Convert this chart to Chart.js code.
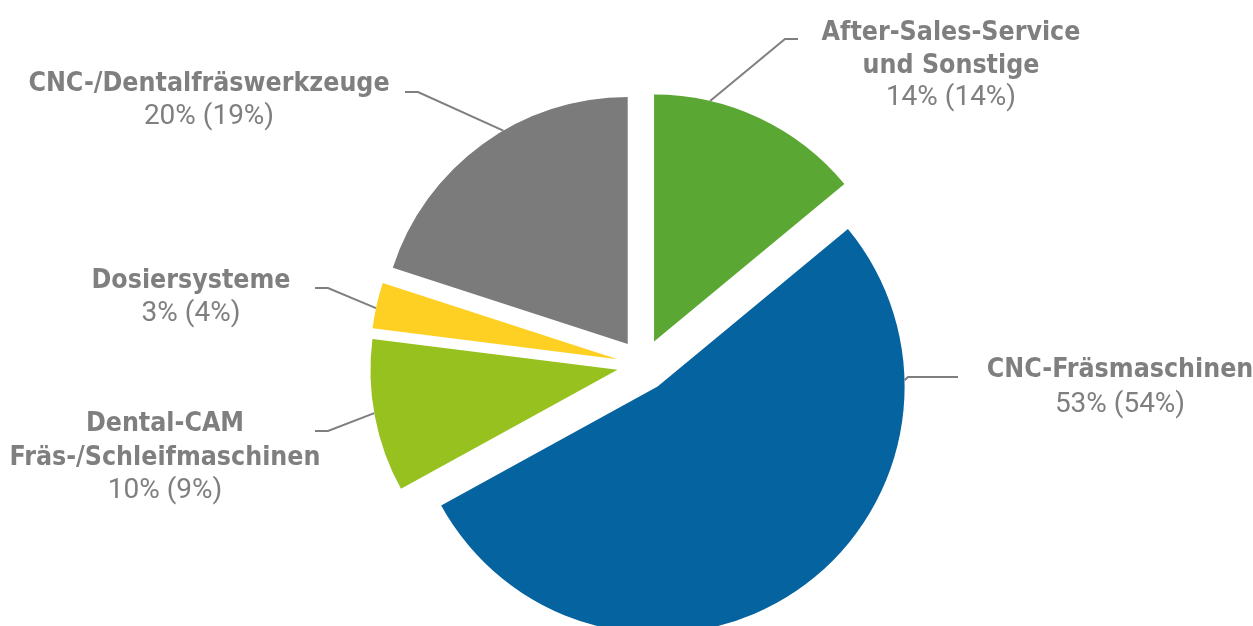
<!DOCTYPE html>
<html>
<head>
<meta charset="utf-8">
<script src="https://cdn.jsdelivr.net/npm/chart.js@4.4.1/dist/chart.umd.min.js"></script>
<style>
  html, body { margin: 0; padding: 0; background: #fff; }
</style>
</head>
<body>
<canvas id="pie-chart" width="1253" height="626"></canvas>
<script>
/* ---- data ---- */
var categories = [
  ['After-Sales-Service', 'und Sonstige'],
  ['CNC-Fräsmaschinen'],
  ['Dental-CAM', 'Fräs-/Schleifmaschinen'],
  ['Dosiersysteme'],
  ['CNC-/Dentalfräswerkzeuge']
];
var shares = [14, 53, 10, 3, 20];          // current year, %
var sharesPrevYear = [14, 54, 9, 4, 19];   // previous year, % (in brackets)
var sliceColors = ['#5ba733', '#0563a0', '#97c11f', '#fdd023', '#7b7b7b'];

/* ---- label placement (leader point on arc as fraction of the slice, elbow, text) ---- */
var labelLayout = [
  { frac: 0.26, elbow: [785, 39],  end: [798, 39],  x: 951,  y: [40, 73, 105] },
  { frac: 0.20, elbow: [908, 377], end: [958, 377], x: 1120, y: [377, 412] },
  { frac: 0.52, elbow: [328, 431], end: [315, 431], x: 165,  y: [431, 465, 498] },
  { frac: 0.44, elbow: [328, 288], end: [315, 288], x: 191,  y: [288, 321] },
  { frac: 0.58, elbow: [418, 92],  end: [405, 92],  x: 209,  y: [91, 124] }
];

var EXPLODE = 26;
var textColor = '#7f7f7f';
var boldFont = 'bold 26.5px "DejaVu Sans Condensed", "DejaVu Sans", sans-serif';
var plainFont = '28px Roboto, "Liberation Sans", sans-serif';

// push every slice out along its own bisector
var explodePlugin = {
  id: 'explode',
  afterDatasetUpdate: function(chart, args) {
    args.meta.data.forEach(function(arc) {
      var mid = (arc.startAngle + arc.endAngle) / 2;
      arc.x += Math.cos(mid) * EXPLODE;
      arc.y += Math.sin(mid) * EXPLODE;
    });
  }
};

var labelPlugin = {
  id: 'sliceLabels',
  afterDatasetsDraw: function(chart) {
    var ctx = chart.ctx;
    var arcs = chart.getDatasetMeta(0).data;
    ctx.save();
    arcs.forEach(function(arc, i) {
      var lay = labelLayout[i];
      var a = arc.startAngle + lay.frac * (arc.endAngle - arc.startAngle);
      var sx = arc.x + Math.cos(a) * arc.outerRadius;
      var sy = arc.y + Math.sin(a) * arc.outerRadius;

      ctx.strokeStyle = textColor;
      ctx.lineWidth = 2;
      ctx.beginPath();
      ctx.moveTo(sx, sy);
      ctx.lineTo(lay.elbow[0], lay.elbow[1]);
      ctx.lineTo(lay.end[0], lay.end[1]);
      ctx.stroke();

      ctx.fillStyle = textColor;
      ctx.textAlign = 'center';
      ctx.textBaseline = 'alphabetic';
      var lines = categories[i];
      ctx.font = boldFont;
      lines.forEach(function(t, k) {
        ctx.fillText(t, lay.x, lay.y[k]);
      });
      ctx.font = plainFont;
      ctx.fillText(shares[i] + '% (' + sharesPrevYear[i] + '%)', lay.x, lay.y[lines.length]);
    });
    ctx.restore();
  }
};

new Chart(document.getElementById('pie-chart'), {
  type: 'pie',
  data: {
    labels: categories.map(function(l) { return l.join(' '); }),
    datasets: [{
      data: shares,
      backgroundColor: sliceColors,
      borderWidth: 0
    }]
  },
  options: {
    responsive: false,
    animation: false,
    events: [],
    radius: 247,
    layout: { padding: { left: 33, top: 104, right: 0, bottom: 0 } },
    plugins: {
      legend: { display: false },
      tooltip: { enabled: false }
    }
  },
  plugins: [explodePlugin, labelPlugin]
});
</script>
</body>
</html>
